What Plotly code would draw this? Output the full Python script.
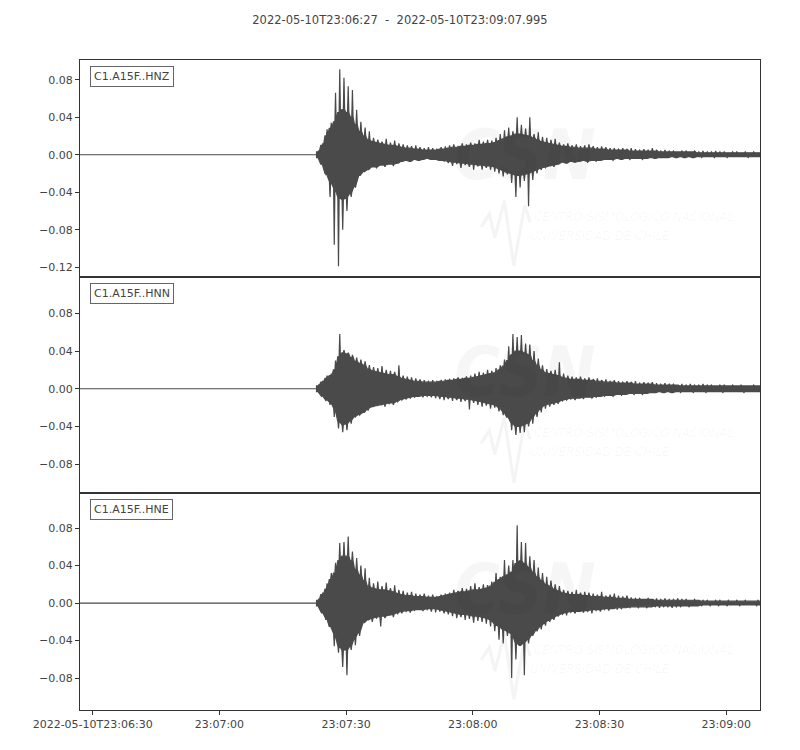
import pandas as pd
import plotly.graph_objects as go
from plotly.subplots import make_subplots

START = pd.Timestamp("2022-05-10 23:06:27")
END = pd.Timestamp("2022-05-10 23:09:07.995")
ONSET = pd.Timestamp("2022-05-10 23:07:23")   # first motion, same on all 3 components

channels = ["C1.A15F..HNZ", "C1.A15F..HNN", "C1.A15F..HNE"]

# values per second from ONSET on:
#   *_peak / *_trough : extreme needle in that second
#   *_core            : half-width of the dense part of the trace
hnz_peak = [0.004, 0.012, 0.027, 0.034, 0.066, 0.091, 0.082, 0.073, 0.069, 0.048,
            0.035, 0.029, 0.025, 0.018, 0.016, 0.014, 0.017, 0.013, 0.015, 0.012,
            0.011, 0.010, 0.009, 0.010, 0.008, 0.007, 0.008, 0.007, 0.006, 0.008,
            0.009, 0.010, 0.011, 0.009, 0.012, 0.011, 0.013, 0.012, 0.016, 0.014,
            0.016, 0.015, 0.018, 0.022, 0.026, 0.029, 0.025, 0.040, 0.032, 0.028,
            0.040, 0.022, 0.024, 0.019, 0.018, 0.016, 0.017, 0.013, 0.011, 0.012,
            0.010, 0.011, 0.009, 0.010, 0.011, 0.009, 0.008, 0.009, 0.008, 0.007,
            0.007, 0.006, 0.007, 0.006, 0.007, 0.006, 0.005, 0.006, 0.005, 0.007,
            0.005, 0.004, 0.005, 0.004, 0.004, 0.003, 0.004, 0.004, 0.003, 0.004,
            0.003, 0.004, 0.003, 0.003, 0.004, 0.003, 0.003, 0.002, 0.003, 0.003,
            0.002, 0.003, 0.002, 0.003, 0.002, 0.002]
hnz_trough = [-0.003, -0.010, -0.021, -0.045, -0.096, -0.119, -0.080, -0.060, -0.045, -0.035,
              -0.022, -0.018, -0.016, -0.013, -0.014, -0.011, -0.013, -0.010, -0.012, -0.009,
              -0.007, -0.006, -0.007, -0.005, -0.006, -0.005, -0.004, -0.005, -0.005, -0.006,
              -0.007, -0.009, -0.012, -0.010, -0.014, -0.011, -0.013, -0.016, -0.012, -0.016,
              -0.014, -0.016, -0.018, -0.020, -0.023, -0.021, -0.030, -0.045, -0.035, -0.028,
              -0.055, -0.027, -0.020, -0.016, -0.014, -0.012, -0.013, -0.010, -0.008, -0.009,
              -0.007, -0.008, -0.007, -0.006, -0.008, -0.006, -0.007, -0.006, -0.005, -0.005,
              -0.006, -0.004, -0.005, -0.004, -0.005, -0.004, -0.004, -0.005, -0.004, -0.003,
              -0.004, -0.003, -0.003, -0.003, -0.002, -0.003, -0.002, -0.003, -0.002, -0.003,
              -0.002, -0.003, -0.002, -0.002, -0.003, -0.002, -0.002, -0.003, -0.002, -0.002,
              -0.002, -0.002, -0.003, -0.002, -0.002, -0.002]
hnz_core = [0.003, 0.010, 0.020, 0.028, 0.035, 0.045, 0.048, 0.045, 0.040, 0.032,
            0.025, 0.020, 0.016, 0.014, 0.013, 0.012, 0.011, 0.010, 0.010, 0.009,
            0.008, 0.007, 0.007, 0.006, 0.006, 0.005, 0.005, 0.005, 0.005, 0.006,
            0.006, 0.007, 0.008, 0.008, 0.009, 0.009, 0.010, 0.010, 0.011, 0.011,
            0.012, 0.012, 0.013, 0.015, 0.017, 0.019, 0.020, 0.022, 0.022, 0.021,
            0.020, 0.018, 0.016, 0.014, 0.013, 0.012, 0.011, 0.010, 0.009, 0.009,
            0.008, 0.008, 0.007, 0.007, 0.007, 0.007, 0.006, 0.006, 0.006, 0.005,
            0.005, 0.005, 0.005, 0.005, 0.004, 0.004, 0.004, 0.004, 0.004, 0.004,
            0.004, 0.003, 0.003, 0.003, 0.003, 0.003, 0.003, 0.003, 0.003, 0.003,
            0.002, 0.002, 0.002, 0.002, 0.002, 0.002, 0.002, 0.002, 0.002, 0.002,
            0.002, 0.002, 0.002, 0.002, 0.002, 0.002]

hnn_peak = [0.004, 0.008, 0.014, 0.016, 0.030, 0.058, 0.041, 0.038, 0.036, 0.033,
            0.031, 0.029, 0.025, 0.023, 0.022, 0.024, 0.020, 0.019, 0.018, 0.025,
            0.014, 0.013, 0.012, 0.011, 0.010, 0.009, 0.008, 0.009, 0.008, 0.009,
            0.010, 0.010, 0.011, 0.012, 0.011, 0.013, 0.014, 0.016, 0.018, 0.017,
            0.020, 0.019, 0.022, 0.025, 0.031, 0.045, 0.058, 0.055, 0.057, 0.048,
            0.047, 0.040, 0.032, 0.025, 0.021, 0.019, 0.020, 0.028, 0.016, 0.014,
            0.013, 0.012, 0.013, 0.011, 0.012, 0.010, 0.011, 0.009, 0.010, 0.008,
            0.009, 0.008, 0.007, 0.008, 0.007, 0.008, 0.006, 0.007, 0.006, 0.007,
            0.006, 0.005, 0.006, 0.005, 0.005, 0.004, 0.005, 0.004, 0.005, 0.004,
            0.004, 0.005, 0.004, 0.004, 0.003, 0.004, 0.004, 0.003, 0.004, 0.003,
            0.004, 0.003, 0.003, 0.004, 0.003, 0.003]
hnn_trough = [-0.003, -0.008, -0.013, -0.017, -0.030, -0.042, -0.046, -0.044, -0.037, -0.030,
              -0.028, -0.025, -0.023, -0.019, -0.018, -0.017, -0.019, -0.016, -0.017, -0.014,
              -0.012, -0.011, -0.010, -0.009, -0.008, -0.009, -0.008, -0.009, -0.010, -0.011,
              -0.012, -0.011, -0.013, -0.012, -0.014, -0.013, -0.022, -0.015, -0.017, -0.019,
              -0.018, -0.021, -0.020, -0.024, -0.028, -0.030, -0.044, -0.049, -0.047, -0.046,
              -0.040, -0.037, -0.030, -0.025, -0.021, -0.019, -0.017, -0.016, -0.013, -0.012,
              -0.011, -0.012, -0.010, -0.011, -0.009, -0.010, -0.009, -0.008, -0.008, -0.007,
              -0.008, -0.006, -0.007, -0.006, -0.005, -0.006, -0.005, -0.006, -0.005, -0.004,
              -0.004, -0.003, -0.004, -0.003, -0.004, -0.003, -0.004, -0.003, -0.003, -0.004,
              -0.003, -0.003, -0.004, -0.003, -0.003, -0.003, -0.004, -0.003, -0.003, -0.003,
              -0.003, -0.004, -0.003, -0.003, -0.003, -0.003]
hnn_core = [0.003, 0.007, 0.011, 0.014, 0.020, 0.034, 0.038, 0.037, 0.033, 0.029,
            0.027, 0.025, 0.021, 0.019, 0.018, 0.017, 0.016, 0.015, 0.015, 0.013,
            0.011, 0.010, 0.009, 0.008, 0.008, 0.007, 0.007, 0.007, 0.007, 0.008,
            0.008, 0.009, 0.009, 0.010, 0.010, 0.011, 0.011, 0.012, 0.013, 0.014,
            0.015, 0.016, 0.017, 0.020, 0.024, 0.030, 0.036, 0.040, 0.040, 0.038,
            0.036, 0.030, 0.025, 0.020, 0.017, 0.016, 0.015, 0.014, 0.012, 0.011,
            0.010, 0.010, 0.010, 0.009, 0.009, 0.009, 0.008, 0.008, 0.007, 0.007,
            0.007, 0.006, 0.006, 0.006, 0.006, 0.005, 0.005, 0.005, 0.005, 0.005,
            0.004, 0.004, 0.004, 0.004, 0.004, 0.004, 0.003, 0.003, 0.003, 0.003,
            0.003, 0.003, 0.003, 0.003, 0.003, 0.003, 0.003, 0.003, 0.003, 0.003,
            0.003, 0.003, 0.003, 0.003, 0.003, 0.003]

hne_peak = [0.004, 0.011, 0.021, 0.032, 0.043, 0.064, 0.065, 0.071, 0.055, 0.048,
            0.040, 0.037, 0.027, 0.021, 0.023, 0.018, 0.022, 0.016, 0.019, 0.014,
            0.013, 0.011, 0.012, 0.010, 0.009, 0.010, 0.008, 0.009, 0.007, 0.009,
            0.010, 0.011, 0.014, 0.013, 0.016, 0.015, 0.018, 0.021, 0.017, 0.020,
            0.019, 0.023, 0.032, 0.028, 0.046, 0.040, 0.046, 0.083, 0.065, 0.064,
            0.050, 0.046, 0.038, 0.032, 0.028, 0.024, 0.020, 0.018, 0.014, 0.013,
            0.012, 0.014, 0.011, 0.012, 0.011, 0.010, 0.009, 0.012, 0.008, 0.009,
            0.010, 0.008, 0.007, 0.008, 0.006, 0.005, 0.005, 0.004, 0.005, 0.004,
            0.005, 0.004, 0.005, 0.004, 0.004, 0.005, 0.004, 0.004, 0.003, 0.004,
            0.003, 0.003, 0.003, 0.002, 0.003, 0.003, 0.002, 0.003, 0.002, 0.003,
            0.002, 0.003, 0.002, 0.002, 0.003, 0.002]
hne_trough = [-0.003, -0.011, -0.018, -0.025, -0.046, -0.053, -0.068, -0.077, -0.050, -0.045,
              -0.035, -0.021, -0.018, -0.020, -0.016, -0.025, -0.016, -0.013, -0.015, -0.012,
              -0.011, -0.009, -0.010, -0.008, -0.007, -0.008, -0.007, -0.009, -0.010, -0.009,
              -0.011, -0.012, -0.014, -0.016, -0.015, -0.018, -0.017, -0.021, -0.019, -0.020,
              -0.022, -0.025, -0.030, -0.039, -0.043, -0.035, -0.080, -0.060, -0.045, -0.077,
              -0.043, -0.035, -0.030, -0.028, -0.024, -0.020, -0.018, -0.014, -0.012, -0.013,
              -0.010, -0.011, -0.009, -0.010, -0.009, -0.011, -0.008, -0.009, -0.007, -0.008,
              -0.006, -0.007, -0.006, -0.005, -0.005, -0.004, -0.005, -0.004, -0.005, -0.004,
              -0.004, -0.005, -0.004, -0.004, -0.005, -0.004, -0.004, -0.003, -0.004, -0.003,
              -0.003, -0.003, -0.002, -0.003, -0.002, -0.003, -0.002, -0.003, -0.002, -0.002,
              -0.003, -0.002, -0.002, -0.002, -0.003, -0.002]
hne_core = [0.003, 0.009, 0.015, 0.025, 0.032, 0.045, 0.050, 0.050, 0.045, 0.036,
            0.030, 0.024, 0.018, 0.016, 0.015, 0.014, 0.014, 0.013, 0.012, 0.010,
            0.009, 0.008, 0.008, 0.007, 0.007, 0.007, 0.006, 0.006, 0.006, 0.007,
            0.008, 0.009, 0.010, 0.011, 0.012, 0.012, 0.013, 0.014, 0.014, 0.015,
            0.016, 0.018, 0.022, 0.025, 0.028, 0.030, 0.033, 0.042, 0.045, 0.042,
            0.038, 0.033, 0.028, 0.024, 0.020, 0.018, 0.015, 0.013, 0.011, 0.010,
            0.009, 0.009, 0.009, 0.008, 0.008, 0.007, 0.007, 0.007, 0.006, 0.006,
            0.006, 0.005, 0.005, 0.005, 0.004, 0.004, 0.004, 0.004, 0.004, 0.004,
            0.003, 0.003, 0.003, 0.003, 0.003, 0.003, 0.003, 0.003, 0.003, 0.003,
            0.003, 0.002, 0.002, 0.002, 0.002, 0.002, 0.002, 0.002, 0.002, 0.002,
            0.002, 0.002, 0.002, 0.002, 0.002, 0.002]

tick_times = ["2022-05-10 23:06:30", "2022-05-10 23:07:00", "2022-05-10 23:07:30",
              "2022-05-10 23:08:00", "2022-05-10 23:08:30", "2022-05-10 23:09:00"]
tick_labels = ["2022-05-10T23:06:30", "23:07:00", "23:07:30", "23:08:00", "23:08:30", "23:09:00"]

peaks = [hnz_peak, hnn_peak, hne_peak]
troughs = [hnz_trough, hnn_trough, hne_trough]
cores = [hnz_core, hnn_core, hne_core]
y_ranges = [[-0.130, 0.101], [-0.111, 0.119], [-0.114, 0.117]]

FONT = "DejaVu Sans"
TXT = "#444444"
LINE = "#333333"
WAVE = "#4a4a4a"
WM = "rgba(0,0,0,0.035)"
WM_FONT = "DejaVu Sans Condensed, DejaVu Sans"


def sec(i):
    return ONSET + pd.Timedelta(seconds=i)


def outline(peak, trough, core):
    # dense band of half-width `core`, one thin needle up and one down per second
    up_x, up_y, lo_x, lo_y = [], [], [], []
    for i, (p, q, c) in enumerate(zip(peak, trough, core)):
        cu, cl = min(c, p), -min(c, -q)
        up_x += [sec(i), sec(i + 0.35), sec(i + 0.5), sec(i + 0.65)]
        up_y += [cu, cu, p, cu]
        lo_x += [sec(i), sec(i + 0.05), sec(i + 0.2), sec(i + 0.35)]
        lo_y += [cl, cl, q, cl]
    xs = [START, ONSET] + up_x + lo_x[::-1] + [ONSET, START]
    ys = [0.0, 0.0] + up_y + lo_y[::-1] + [0.0, 0.0]
    return xs, ys


fig = make_subplots(rows=3, cols=1, shared_xaxes=True, vertical_spacing=0)

for r in range(3):
    xs, ys = outline(peaks[r], troughs[r], cores[r])
    fig.add_trace(go.Scatter(x=xs, y=ys, mode="lines", fill="toself",
                             fillcolor=WAVE, line=dict(color=WAVE, width=1.2),
                             hoverinfo="skip", showlegend=False),
                  row=r + 1, col=1)

    fig.update_yaxes(range=y_ranges[r], tick0=0, dtick=0.04, tickformat=".2f",
                     ticks="outside", ticklen=4, tickcolor=LINE,
                     showline=True, mirror=True, linecolor=LINE, linewidth=1,
                     showgrid=False, zeroline=False,
                     tickfont=dict(family=FONT, size=11, color=TXT),
                     row=r + 1, col=1)

    fig.add_annotation(text=channels[r], xref="x domain", yref="y domain",
                       x=0.0147, y=0.972, xanchor="left", yanchor="top",
                       showarrow=False, font=dict(family=FONT, size=11, color=TXT),
                       bordercolor="#666666", borderwidth=1, borderpad=3,
                       bgcolor="white", row=r + 1, col=1)

    # faint CSN watermark
    fig.add_annotation(text="<b><i>CSN</i></b>", xref="x domain", yref="y domain",
                       x=0.655, y=0.56, showarrow=False,
                       font=dict(family=WM_FONT, size=70, color=WM),
                       row=r + 1, col=1)
    fig.add_annotation(text="<i>CENTRO SISMOLÓGICO NACIONAL</i>", xref="x domain",
                       yref="y domain", x=0.665, y=0.235, xanchor="left",
                       showarrow=False, font=dict(family=WM_FONT, size=13, color=WM),
                       row=r + 1, col=1)
    fig.add_annotation(text="<i>UNIVERSIDAD DE CHILE</i>", xref="x domain",
                       yref="y domain", x=0.659, y=0.148, xanchor="left",
                       showarrow=False, font=dict(family=WM_FONT, size=13, color=WM),
                       row=r + 1, col=1)
    fig.add_shape(type="path", xref="x domain", yref="y domain",
                  path="M 0.590 0.23 L 0.602 0.29 L 0.610 0.18 L 0.624 0.35 "
                       "L 0.638 0.05 L 0.654 0.33 L 0.662 0.25",
                  line=dict(color="#f4f4f4", width=3), layer="below",
                  row=r + 1, col=1)

for r in range(3):
    fig.update_xaxes(type="date", range=[START, END], showgrid=False, zeroline=False,
                     showline=True, mirror=True, linecolor=LINE, linewidth=1,
                     row=r + 1, col=1)
fig.update_xaxes(tickvals=tick_times, ticktext=tick_labels, ticks="outside",
                 ticklen=4, tickcolor=LINE,
                 tickfont=dict(family=FONT, size=11, color=TXT), row=3, col=1)

fig.update_layout(
    width=800, height=750,
    margin=dict(l=72, r=48, t=52, b=48),
    paper_bgcolor="white", plot_bgcolor="white",
    title=dict(text="2022-05-10T23:06:27  -  2022-05-10T23:09:07.995",
               x=392 / 800, xref="container", xanchor="center",
               y=1 - 12 / 750, yref="container", yanchor="middle",
               font=dict(family=FONT, size=11.5, color=TXT)),
    showlegend=False,
)

fig.write_html("out.html")
